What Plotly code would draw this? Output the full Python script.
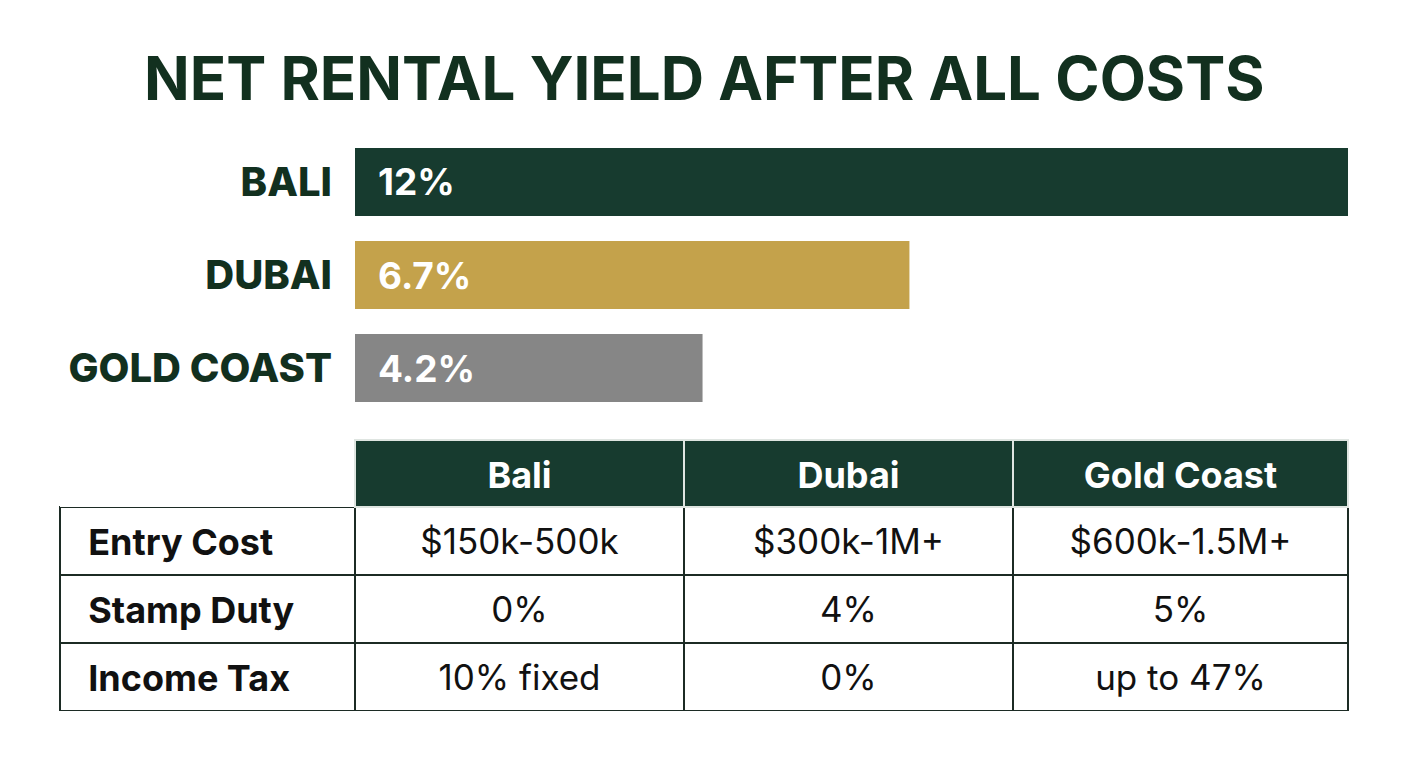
import plotly.graph_objects as go

# ---- data ----
title_text = "NET RENTAL YIELD AFTER ALL COSTS"
markets = ["BALI", "DUBAI", "GOLD COAST"]
net_yield = [12, 6.7, 4.2]
bar_colors = ["#173b2f", "#c4a24b", "#868686"]

table_header = ["", "Bali", "Dubai", "Gold Coast"]
row_labels = ["Entry Cost", "Stamp Duty", "Income Tax"]
bali_vals = ["$150k-500k", "0%", "10% fixed"]
dubai_vals = ["$300k-1M+", "4%", "0%"]
gold_vals = ["$600k-1.5M+", "5%", "up to 47%"]

GREEN = "#173b2f"
TITLE_GREEN = "#12301f"
CLEAR = "rgba(0,0,0,0)"
W, H = 1408, 768
FONT = "Inter"

TBL_TOP, TBL_BOT = 440, 711
TEXT_SHIFT = 5
col_w = [295, 329, 329, 335]

fig = go.Figure()

fig.add_trace(go.Bar(
    x=net_yield, y=markets, orientation="h",
    marker=dict(color=bar_colors, line=dict(width=0)),
    hoverinfo="skip", showlegend=False,
))

for m, v in zip(markets, net_yield):
    fig.add_annotation(
        x=0, y=m, xref="x", yref="y", text=f"<b>{v:g}%</b>",
        showarrow=False, xanchor="left", yanchor="middle", xshift=21,
        font=dict(family=FONT, size=37, color="white"),
    )

header_vals = [f"<b>{h}</b>" if h else "" for h in table_header]
pad = "\u00a0" * 2
body_vals = [[pad + f"<b>{r}</b>" for r in row_labels]] + [
    [f"<span>{v}</span>" for v in col] for col in (bali_vals, dubai_vals, gold_vals)
]

# grid: fills and lines (no text)
fig.add_trace(go.Table(
    domain=dict(x=[60 / W, 1348 / W], y=[1 - TBL_BOT / H, 1 - TBL_TOP / H]),
    columnwidth=col_w,
    header=dict(
        values=["" for _ in table_header],
        fill=dict(color=["white", GREEN, GREEN, GREEN]),
        line=dict(color=[CLEAR, "#dfe5e1", "#dfe5e1", "#dfe5e1"], width=2),
        font=dict(family=FONT, size=36, color="white"),
        height=67,
    ),
    cells=dict(
        values=[["" for _ in row_labels] for _ in table_header],
        fill=dict(color="white"),
        line=dict(color="#1c2b24", width=2),
        font=dict(family=FONT, size=35, color="#111111"),
        height=68,
    ),
))

# text layer, nudged down to centre vertically in cells
fig.add_trace(go.Table(
    domain=dict(x=[60 / W, 1348 / W],
                y=[1 - (TBL_BOT + TEXT_SHIFT) / H, 1 - (TBL_TOP + TEXT_SHIFT) / H]),
    columnwidth=col_w,
    header=dict(
        values=header_vals,
        fill=dict(color=CLEAR), line=dict(color=CLEAR, width=0),
        font=dict(family=FONT, size=36, color="white"),
        align="center", height=67,
    ),
    cells=dict(
        values=body_vals,
        fill=dict(color=CLEAR), line=dict(color=CLEAR, width=0),
        font=dict(family=FONT, size=[36, 35, 35, 35], color="#111111"),
        align=["left", "center", "center", "center"], height=68,
    ),
))

fig.add_annotation(
    x=0.5, y=1 - 78 / H, xref="paper", yref="paper",
    text=f"<b>{title_text}</b>", showarrow=False,
    xanchor="center", yanchor="middle",
    font=dict(family=FONT, size=60, color=TITLE_GREEN, weight=800),
)

fig.update_layout(
    width=W, height=H,
    margin=dict(l=0, r=0, t=0, b=0),
    paper_bgcolor="white", plot_bgcolor="white",
    bargap=0.27,
    xaxis=dict(domain=[355 / W, 1348 / W], range=[0, 12], visible=False, fixedrange=True),
    yaxis=dict(
        domain=[1 - 414.5 / H, 1 - 135.5 / H],
        range=[2.5, -0.5], showgrid=False, zeroline=False, showline=False,
        ticks="", ticklabelstandoff=22,
        tickfont=dict(family=FONT, size=40, color=TITLE_GREEN, weight=800),
        fixedrange=True,
    ),
)

fig.write_html("out.html")
